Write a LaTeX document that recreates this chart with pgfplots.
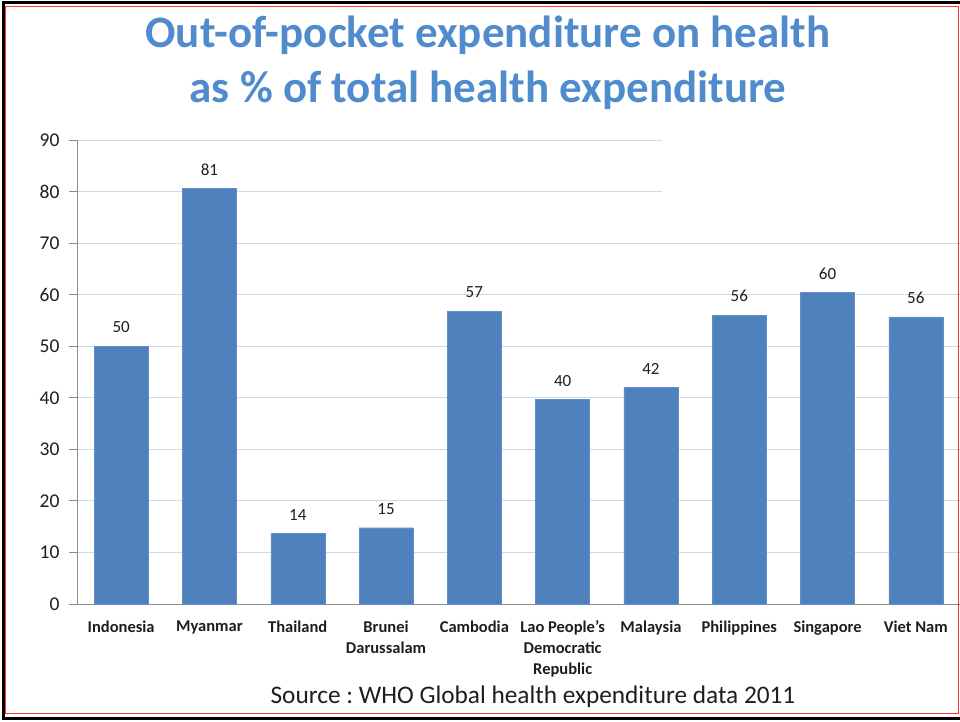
\documentclass[border=0pt]{standalone}
\usepackage{pgfplots}
\pgfplotsset{compat=1.18}
\usepackage{fontspec}
\setmainfont{Carlito}

\definecolor{barblue}{RGB}{79,129,189}
\definecolor{titleblue}{RGB}{80,140,205}
\definecolor{gridblue}{RGB}{205,218,236}
\definecolor{axisgray}{RGB}{140,140,140}
\definecolor{txt}{RGB}{30,30,30}

\begin{document}
\frenchspacing
\begin{tikzpicture}[x=1pt,y=1pt]
% picture is 960 x 721, 1pt = 1px
\fill[white] (0,0) rectangle (960,721);

\node[titleblue, font=\bfseries\fontsize{45}{45}\selectfont] at (488,686) {Out-of-pocket expenditure on health};
\node[titleblue, font=\bfseries\fontsize{45}{45}\selectfont] at (488,631) {as \% of total health expenditure};

\begin{axis}[
    at={(77pt,117pt)},
    anchor=south west,
    scale only axis,
    width=883pt,
    height=464pt,
    xmin=-0.5, xmax=9.5,
    ymin=0, ymax=90,
    axis x line*=bottom,
    axis y line*=left,
    axis line style={axisgray, line width=0.8pt},
    ytick={0,10,...,90},
    ymajorgrids,
    grid style={gridblue, line width=0.8pt},
    tick align=outside,
    major tick length=8pt,
    tick style={axisgray, line width=0.8pt},
    xtick={0,...,9},
    xticklabels={Indonesia, Myanmar, Thailand, {Brunei\\Darussalam}, Cambodia,
        {Lao People's\\Democratic\\Republic}, Malaysia, Philippines, Singapore, Viet Nam},
    xtick style={draw=none},
    extra x ticks={-0.5,0.5,1.5,2.5,3.5,4.5,5.5,6.5,7.5,8.5,9.5},
    extra x tick labels={},
    extra x tick style={major tick length=6pt, tick style={axisgray, line width=0.8pt}},
    x tick label style={font=\bfseries\fontsize{16.5}{21}\selectfont, text=txt,
        align=center, anchor=north, yshift=-5pt, text depth=0pt},
    y tick label style={font=\fontsize{19.5}{19.5}\selectfont, text=txt, xshift=-6pt},
    /pgf/number format/assume math mode=true,
    nodes near coords,
    point meta=y,
    nodes near coords style={font=\fontsize{17}{17}\selectfont, text=txt,
        /pgf/number format/.cd, fixed, precision=0, /tikz/.cd,
        anchor=south, inner sep=0pt, yshift=13pt},
]
% the upper grid lines are hidden on the right in the original
\fill[white] (axis cs:6.13,74) rectangle (axis cs:9.6,92);
\addplot[ybar, bar width=54pt, fill=barblue, draw=barblue!90!white] coordinates {
    (0,50.0) (1,80.6) (2,13.7) (3,14.8) (4,56.8)
    (5,39.7) (6,42.0) (7,56.0) (8,60.4) (9,55.7)
};
\end{axis}

\node[txt, font=\fontsize{25.3}{25.3}\selectfont] at (533,24) {Source : WHO Global health expenditure data 2011};

% page frame
\draw[red!80, line width=1pt] (5,8) rectangle (958,714);
\draw[black, line width=3pt] (960,718) -- (3,718) -- (3,3) -- (960,3);

\pgfresetboundingbox
\useasboundingbox (0,0) rectangle (960,721);
\end{tikzpicture}
\end{document}
